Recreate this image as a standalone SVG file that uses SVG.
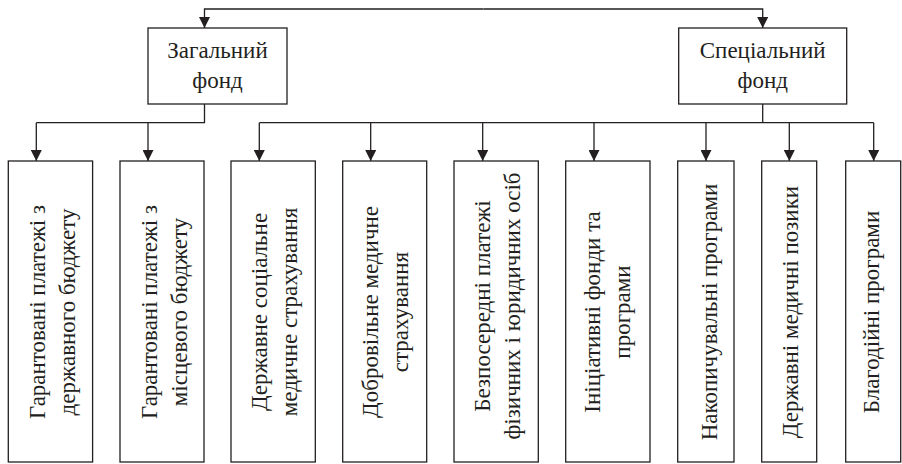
<svg xmlns="http://www.w3.org/2000/svg" width="902" height="464" viewBox="0 0 902 464" font-family="Liberation Serif, Times New Roman, serif">
  <style>
    .box { fill: #ffffff; stroke: #231f20; stroke-width: 1.3; }
    .lbl { font-size: 23px; fill: #231f20; text-anchor: middle; }
    .wire { fill: none; stroke: #231f20; stroke-width: 1.3; }
  </style>
  <defs>
    <marker id="arrow" markerUnits="userSpaceOnUse" markerWidth="11" markerHeight="11" refX="11" refY="5.5" orient="auto">
      <path d="M0,0 L11,5.5 L0,11 z" fill="#231f20"/>
    </marker>
  </defs>
  <rect width="902" height="464" fill="#ffffff"/>

  <g id="connectors">
    <!-- link between the two funds -->
    <path class="wire" d="M483.6,9 H204.5 V28" marker-end="url(#arrow)"/>
    <path class="wire" d="M483.6,9 H762.7 V28" marker-end="url(#arrow)"/>
    <!-- general fund branches -->
    <path class="wire" d="M204.5,104 V122.7 H36.3"/>
    <path class="wire" d="M36.3,122.7 V161" marker-end="url(#arrow)"/>
    <path class="wire" d="M148,122.7 V161" marker-end="url(#arrow)"/>
    <!-- special fund branches -->
    <path class="wire" d="M762.7,104 V122.7"/>
    <path class="wire" d="M259.3,122.7 H873.7"/>
    <path class="wire" d="M259.3,122.7 V161" marker-end="url(#arrow)"/>
    <path class="wire" d="M370.7,122.7 V161" marker-end="url(#arrow)"/>
    <path class="wire" d="M482.7,122.7 V161" marker-end="url(#arrow)"/>
    <path class="wire" d="M594,122.7 V161" marker-end="url(#arrow)"/>
    <path class="wire" d="M706,122.7 V161" marker-end="url(#arrow)"/>
    <path class="wire" d="M789.3,122.7 V161" marker-end="url(#arrow)"/>
    <path class="wire" d="M873.7,122.7 V161" marker-end="url(#arrow)"/>
  </g>

  <g id="general-fund">
    <rect class="box" x="148" y="28" width="139" height="76"/>
    <text class="lbl" x="217.5" y="58.3">Загальний</text>
    <text class="lbl" x="217.5" y="88.3">фонд</text>
  </g>

  <g id="special-fund">
    <rect class="box" x="678.7" y="28" width="168" height="76"/>
    <text class="lbl" x="762.7" y="58.3">Спеціальний</text>
    <text class="lbl" x="762.7" y="88.3">фонд</text>
  </g>

  <g id="state-budget">
    <rect class="box" x="8.3" y="161" width="84.3" height="301"/>
    <g transform="translate(50.5,312) rotate(-90)">
      <text class="lbl" x="0" y="-5.5">Гарантовані платежі з</text>
      <text class="lbl" x="0" y="24.5">державного бюджету</text>
    </g>
  </g>

  <g id="local-budget">
    <rect class="box" x="120" y="161" width="84" height="301"/>
    <g transform="translate(162,312) rotate(-90)">
      <text class="lbl" x="0" y="-5.5">Гарантовані платежі з</text>
      <text class="lbl" x="0" y="24.5">місцевого бюджету</text>
    </g>
  </g>

  <g id="state-insurance">
    <rect class="box" x="231" y="161" width="84.3" height="301"/>
    <g transform="translate(273.2,312) rotate(-90)">
      <text class="lbl" x="0" y="-6.5">Державне соціальне</text>
      <text class="lbl" x="0" y="23.5">медичне страхування</text>
    </g>
  </g>

  <g id="voluntary-insurance">
    <rect class="box" x="342.7" y="161" width="84" height="301"/>
    <g transform="translate(384.7,312) rotate(-90)">
      <text class="lbl" x="0" y="-7">Добровільне медичне</text>
      <text class="lbl" x="0" y="23">страхування</text>
    </g>
  </g>

  <g id="direct-payments">
    <rect class="box" x="454" y="161" width="84.3" height="301"/>
    <g transform="translate(496.2,306) rotate(-90)">
      <text class="lbl" x="0" y="-6">Безпосередні платежі</text>
      <text class="lbl" x="0" y="24">фізичних і юридичних осіб</text>
    </g>
  </g>

  <g id="initiative-funds">
    <rect class="box" x="565.7" y="161" width="84.3" height="301"/>
    <g transform="translate(607.8,312) rotate(-90)">
      <text class="lbl" x="0" y="-8">Ініціативні фонди та</text>
      <text class="lbl" x="0" y="22">програми</text>
    </g>
  </g>

  <g id="savings-programs">
    <rect class="box" x="677.7" y="161" width="56.3" height="301"/>
    <g transform="translate(706,312) rotate(-90)">
      <text class="lbl" x="0" y="10.5">Накопичувальні програми</text>
    </g>
  </g>

  <g id="medical-loans">
    <rect class="box" x="761.7" y="161" width="55" height="301"/>
    <g transform="translate(789.2,312) rotate(-90)">
      <text class="lbl" x="0" y="8.5">Державні медичні позики</text>
    </g>
  </g>

  <g id="charity-programs">
    <rect class="box" x="845.7" y="161" width="55" height="301"/>
    <g transform="translate(873.2,312) rotate(-90)">
      <text class="lbl" x="0" y="5.5">Благодійні програми</text>
    </g>
  </g>
</svg>
